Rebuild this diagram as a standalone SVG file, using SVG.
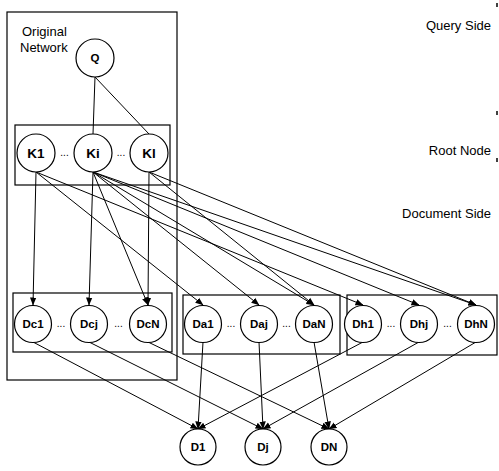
<svg xmlns="http://www.w3.org/2000/svg" width="499" height="471" viewBox="0 0 499 471">
<style>
.box{fill:none;stroke:#000;stroke-width:1.2}
.nd{fill:#fff;stroke:#000;stroke-width:1.2}
.lb{font-family:"Liberation Sans",Arial,sans-serif;font-weight:bold;font-size:11.5px;text-anchor:middle;fill:#000}
.kl{font-size:13.5px}
.dots{font-family:"Liberation Sans",Arial,sans-serif;font-size:10px;text-anchor:middle;fill:#000}
.side{font-family:"Liberation Sans",Arial,sans-serif;font-size:13px;text-anchor:end;fill:#000}
.cap{font-family:"Liberation Sans",Arial,sans-serif;font-size:13px;fill:#000}
.e{fill:none;stroke:#000;stroke-width:1}
.a{marker-end:url(#arr)}
</style>
<defs>
<marker id="arr" markerUnits="userSpaceOnUse" markerWidth="8" markerHeight="8" viewBox="0 0 8 8" refX="7.5" refY="4" orient="auto">
<path d="M0,0.8 L8,4 L0,7.2 Z" fill="#000"/>
</marker>
</defs>
<rect width="499" height="471" fill="#fff"/>

<g id="frames">
<rect class="box" x="7" y="12" width="170" height="368"/>
<rect class="box" x="15" y="125" width="155" height="60"/>
<rect class="box" x="13" y="293" width="159" height="59"/>
<rect class="box" x="183" y="295" width="157" height="59"/>
<rect class="box" x="347" y="295" width="150" height="60"/>
<text class="cap" x="22" y="36">Original</text>
<text class="cap" x="20" y="52">Network</text>
</g>

<g id="side-labels">
<text class="side" x="491" y="30">Query Side</text>
<text class="side" x="491" y="155">Root Node</text>
<text class="side" x="491" y="218">Document Side</text>
<line x1="497" y1="3" x2="497" y2="7" stroke="#000" stroke-width="1.5"/>
<line x1="497" y1="111" x2="497" y2="115" stroke="#000" stroke-width="1.5"/>
<line x1="497" y1="158" x2="497" y2="162" stroke="#000" stroke-width="1.5"/>
</g>

<g id="connectors">
<line class="e" x1="95" y1="77" x2="93" y2="134"/>
<line class="e" x1="95" y1="77" x2="149" y2="134"/>
<line class="e a" x1="36" y1="172" x2="33" y2="305"/>
<line class="e a" x1="36" y1="172" x2="203" y2="305"/>
<line class="e a" x1="36" y1="172" x2="363" y2="305" stroke-width="0.8"/>
<line class="e a" x1="93" y1="172" x2="89" y2="305"/>
<line class="e a" x1="93" y1="172" x2="148" y2="305"/>
<line class="e a" x1="93" y1="172" x2="259" y2="305"/>
<line class="e a" x1="93" y1="172" x2="314" y2="305"/>
<line class="e a" x1="93" y1="172" x2="419" y2="305"/>
<line class="e a" x1="93" y1="172" x2="476" y2="305"/>
<line class="e a" x1="149" y1="172" x2="148" y2="305"/>
<line class="e a" x1="149" y1="172" x2="314" y2="305"/>
<line class="e a" x1="149" y1="172" x2="476" y2="305"/>
<line class="e a" x1="33" y1="342" x2="198" y2="429"/>
<line class="e a" x1="203" y1="342" x2="198" y2="429"/>
<line class="e a" x1="363" y1="342" x2="198" y2="429"/>
<line class="e a" x1="89" y1="342" x2="263" y2="429"/>
<line class="e a" x1="259" y1="342" x2="263" y2="429"/>
<line class="e a" x1="419" y1="342" x2="263" y2="429"/>
<line class="e a" x1="148" y1="342" x2="329" y2="429"/>
<line class="e a" x1="314" y1="342" x2="329" y2="429"/>
<line class="e a" x1="476" y1="342" x2="329" y2="429"/>
</g>

<g id="Q"><circle class="nd" cx="95" cy="58" r="19"/><text class="lb" x="95" y="62">Q</text></g>

<g id="K1"><circle class="nd" cx="36" cy="153" r="19"/><text class="lb kl" x="36" y="158">K1</text></g>
<text class="dots" x="64.5" y="156">...</text>
<g id="Ki"><circle class="nd" cx="93" cy="153" r="19"/><text class="lb kl" x="93" y="158">Ki</text></g>
<text class="dots" x="121" y="156">...</text>
<g id="Kl"><circle class="nd" cx="149" cy="153" r="19"/><text class="lb kl" x="149" y="158">Kl</text></g>

<g id="Dc1"><circle class="nd" cx="33" cy="324" r="18.5"/><text class="lb" x="33" y="328">Dc1</text></g>
<text class="dots" x="61" y="327">...</text>
<g id="Dcj"><circle class="nd" cx="89" cy="324" r="18.5"/><text class="lb" x="89" y="328">Dcj</text></g>
<text class="dots" x="118.5" y="327">...</text>
<g id="DcN"><circle class="nd" cx="148" cy="324" r="18.5"/><text class="lb" x="148" y="328">DcN</text></g>

<g id="Da1"><circle class="nd" cx="203" cy="324" r="18.5"/><text class="lb" x="203" y="328">Da1</text></g>
<text class="dots" x="231" y="327">...</text>
<g id="Daj"><circle class="nd" cx="259" cy="324" r="18.5"/><text class="lb" x="259" y="328">Daj</text></g>
<text class="dots" x="286.5" y="327">...</text>
<g id="DaN"><circle class="nd" cx="314" cy="324" r="18.5"/><text class="lb" x="314" y="328">DaN</text></g>

<g id="Dh1"><circle class="nd" cx="363" cy="324" r="18.5"/><text class="lb" x="363" y="328">Dh1</text></g>
<text class="dots" x="391" y="327">...</text>
<g id="Dhj"><circle class="nd" cx="419" cy="324" r="18.5"/><text class="lb" x="419" y="328">Dhj</text></g>
<text class="dots" x="447.5" y="327">...</text>
<g id="DhN"><circle class="nd" cx="476" cy="324" r="18.5"/><text class="lb" x="476" y="328">DhN</text></g>

<g id="D1"><circle class="nd" cx="198" cy="447" r="18"/><text class="lb" x="198" y="451">D1</text></g>
<g id="Dj"><circle class="nd" cx="263" cy="447" r="18"/><text class="lb" x="263" y="451">Dj</text></g>
<g id="DN"><circle class="nd" cx="329" cy="447" r="18"/><text class="lb" x="329" y="451">DN</text></g>
</svg>
